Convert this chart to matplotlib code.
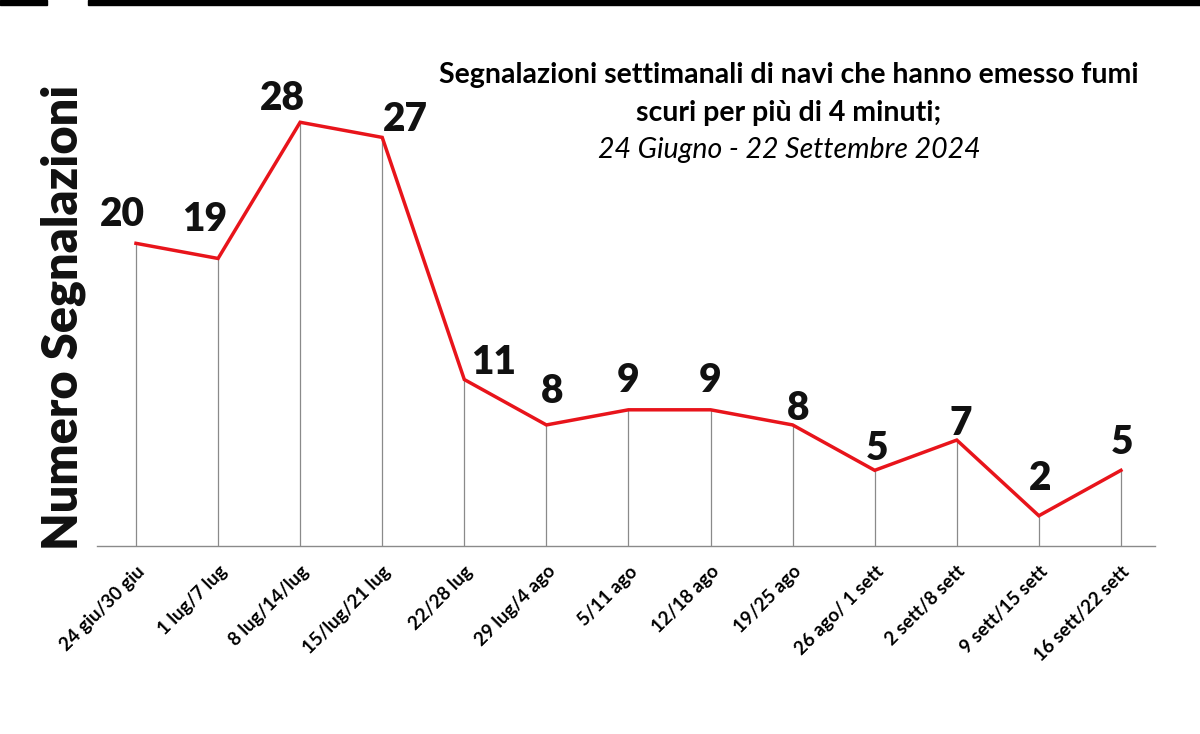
import matplotlib
matplotlib.use("Agg")
import matplotlib.pyplot as plt
from matplotlib.patches import Rectangle

plt.rcParams['font.family'] = ['Lato', 'DejaVu Sans']

# settimane e numero di segnalazioni
weeks = ["24 giu/30 giu", "1 lug/7 lug", "8 lug/14/lug", "15/lug/21 lug", "22/28 lug",
         "29 lug/4 ago", "5/11 ago", "12/18 ago", "19/25 ago", "26 ago/ 1 sett",
         "2 sett/8 sett", "9 sett/15 sett", "16 sett/22 sett"]
reports = [20, 19, 28, 27, 11, 8, 9, 9, 8, 5, 7, 2, 5]

# spostamento delle etichette (in punti) rispetto al punto
label_dx = [-10, -10, -13, 17, 21, 4, 0, 0, 4, 2, 3, 1, 1]
label_dy = [21, 28, 17, 13, 12, 24, 21, 21, 12, 16, 12, 27, 20]

fig = plt.figure(figsize=(12, 7.34), dpi=100)
ax = fig.add_axes([97 / 1200, 188 / 734, (1155 - 97) / 1200, 454 / 734])

x = list(range(len(weeks)))
ax.vlines(x, 0, reports, color="#8a8a8a", lw=0.9, zorder=1)
ax.plot(x, reports, color="#e8141b", lw=2.5, zorder=2, solid_joinstyle="miter")

for i, v in enumerate(reports):
    ax.annotate(str(v), (i, v), xytext=(label_dx[i], label_dy[i]), textcoords="offset points",
                ha="center", va="center", fontsize=28, fontweight="heavy", color="#111111")

ax.set_xlim(-0.475, 12.415)
ax.set_ylim(0, 30)
for s in ["top", "right", "left"]:
    ax.spines[s].set_visible(False)
ax.spines["bottom"].set_color("#8a8a8a")
ax.spines["bottom"].set_linewidth(1.0)
ax.set_yticks([])
ax.set_xticks(x)
ax.set_xticklabels(weeks, rotation=45, ha="right", va="top", rotation_mode="anchor",
                   fontsize=13.5, fontweight="bold")
ax.tick_params(axis="x", length=0, pad=12)

fig.text(63 / 1200, 1 - 550 / 734, "Numero Segnalazioni", rotation=90, ha="center", va="bottom",
         fontsize=35, fontweight="heavy", color="#111111")

fig.text(789 / 1200, 1 - 75 / 734, "Segnalazioni settimanali di navi che hanno emesso fumi",
         ha="center", va="center", fontsize=20.5, fontweight="bold")
fig.text(789 / 1200, 1 - 113 / 734, "scuri per più di 4 minuti;",
         ha="center", va="center", fontsize=20.5, fontweight="bold")
fig.text(789 / 1200, 1 - 150 / 734, "24 Giugno - 22 Settembre 2024",
         ha="center", va="center", fontsize=20.5, style="italic")

# barre nere in alto
fig.patches.append(Rectangle((0, 1 - 4.5 / 734), 47 / 1200, 4.5 / 734, transform=fig.transFigure,
                             color="black"))
fig.patches.append(Rectangle((88 / 1200, 1 - 4.5 / 734), 1, 4.5 / 734, transform=fig.transFigure,
                             color="black"))

fig.savefig("out.png", dpi=100)
